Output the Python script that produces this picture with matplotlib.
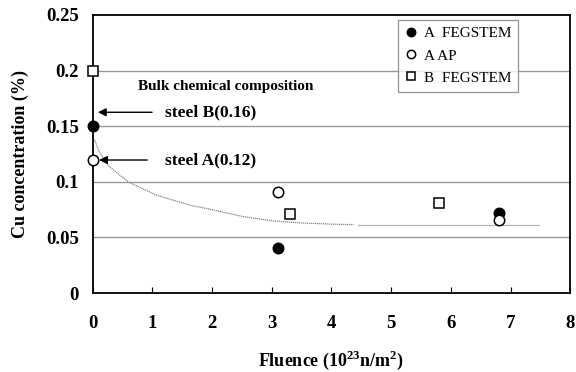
import numpy as np
import matplotlib
matplotlib.use('Agg')
import matplotlib.pyplot as plt

plt.rcParams['font.family'] = ['Liberation Serif', 'DejaVu Serif']
plt.rcParams['mathtext.fontset'] = 'custom'
plt.rcParams['mathtext.rm'] = 'Liberation Serif'
plt.rcParams['mathtext.bf'] = 'Liberation Serif:bold'

# data
a_feg_x = [0.0, 3.1, 6.8]
a_feg_y = [0.150, 0.041, 0.072]
a_ap_x = [0.0, 3.1, 6.8]
a_ap_y = [0.120, 0.091, 0.066]
b_feg_x = [0.0, 3.3, 5.8]
b_feg_y = [0.200, 0.071, 0.081]

# trend curve (two segments)
fit1_x = [0.03, 0.1, 0.25, 0.59, 1.07, 1.63, 2.0, 2.5, 3.0, 3.5, 4.0, 4.37]
fit1_y = [0.138, 0.128, 0.115, 0.100, 0.088, 0.079, 0.075, 0.069, 0.065, 0.063, 0.062, 0.0615]
fit2_x = [4.45, 7.5]
fit2_y = [0.0615, 0.0615]

x_ticks = [0, 1, 2, 3, 4, 5, 6, 7, 8]
y_ticks = [0, 0.05, 0.1, 0.15, 0.2, 0.25]
y_ticklabels = ['0', '0.05', '0.1', '0.15', '0.2', '0.25']

fig = plt.figure(figsize=(5.76, 3.72), dpi=100)
ax = fig.add_axes([0.161, 0.212, 0.829, 0.748])

for yy in y_ticks[1:-1]:
    ax.axhline(yy, color='#999999', lw=1.0, zorder=1)

ax.plot(fit1_x, fit1_y, color='#888888', lw=0.9, ls=(0, (1, 0.6)), zorder=2)
ax.plot(fit2_x, fit2_y, color='#888888', lw=0.9, ls=(0, (1, 0.6)), zorder=2)

ms = 7.5
ax.plot(a_feg_x, a_feg_y, 'o', ms=ms, mfc='black', mec='black', mew=1.1,
        label='A  FEGSTEM', zorder=5, clip_on=False)
ax.plot(a_ap_x, a_ap_y, 'o', ms=ms, mfc='white', mec='black', mew=1.1,
        label='A AP', zorder=5, clip_on=False)
ax.plot(b_feg_x, b_feg_y, 's', ms=ms, mfc='white', mec='black', mew=1.1,
        label='B  FEGSTEM', zorder=5, clip_on=False)

# annotations
ax.annotate('', xy=(0.04, 0.1625), xytext=(1.04, 0.1625),
            arrowprops=dict(arrowstyle='-|>', color='black', lw=1.0,
                            mutation_scale=12))
ax.annotate('', xy=(0.06, 0.1196), xytext=(0.96, 0.1196),
            arrowprops=dict(arrowstyle='-|>', color='black', lw=1.0,
                            mutation_scale=12))
ax.text(1.21, 0.1625, 'steel B(0.16)', fontsize=12.5, fontweight='bold',
        va='center', ha='left')
ax.text(1.21, 0.1196, 'steel A(0.12)', fontsize=12.5, fontweight='bold',
        va='center', ha='left')
ax.text(0.76, 0.1855, 'Bulk chemical composition', fontsize=11, fontweight='bold',
        va='center', ha='left')

ax.set_xlim(0, 8)
ax.set_ylim(0, 0.25)
ax.set_xticks(x_ticks)
ax.set_yticks(y_ticks)
ax.set_yticklabels(y_ticklabels)
ax.tick_params(axis='x', direction='in', length=4, width=0.8, pad=16,
               labelsize=13.5, top=False)
ax.tick_params(axis='y', length=0, pad=10, labelsize=13.5)
for lab in ax.get_xticklabels() + ax.get_yticklabels():
    lab.set_fontweight('bold')
for sp in ax.spines.values():
    sp.set_color('black')
    sp.set_linewidth(1.3)

ax.set_xlabel(r'Fluence (10$^{\mathbf{23}}$n/m$^{\mathbf{2}}$)', fontsize=13,
              fontweight='bold', labelpad=12)
ax.set_ylabel('Cu concentration (%)', fontsize=13, fontweight='bold', labelpad=12)

leg = ax.legend(loc='upper left', bbox_to_anchor=(0.64, 0.982), borderaxespad=0,
                fontsize=11, frameon=True, fancybox=False, handlelength=0.8,
                handletextpad=0.4, labelspacing=0.55, borderpad=0.45,
                markerscale=0.8)
leg.get_frame().set_edgecolor('#777777')
leg.get_frame().set_linewidth(0.9)
leg.set_zorder(10)

fig.savefig('out.png', dpi=100)
